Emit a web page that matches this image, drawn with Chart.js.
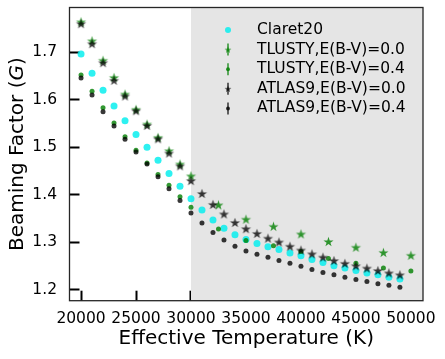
<!DOCTYPE html>
<html>
<head>
<meta charset="utf-8">
<script src="https://cdn.jsdelivr.net/npm/chart.js@4.4.1/dist/chart.umd.min.js"></script>
<style>
  html, body { margin: 0; padding: 0; background: #fff; }
</style>
</head>
<body>
<canvas id="beamChart" width="445" height="359"></canvas>
<script>
// temperatures (K)
const tempsFine = [20000, 21000, 22000, 23000, 24000, 25000, 26000, 27000, 28000, 29000,
  30000, 31000, 32000, 33000, 34000, 35000, 36000, 37000, 38000, 39000,
  40000, 41000, 42000, 43000, 44000, 45000, 46000, 47000, 48000, 49000];
const tempsTlusty = [20000, 21000, 22000, 23000, 24000, 25000, 26000, 27000, 28000, 29000,
  30000, 32500, 35000, 37500, 40000, 42500, 45000, 47500, 50000];

// beaming factor per series
const claret20 = [1.696, 1.656, 1.620, 1.587, 1.556, 1.527, 1.500, 1.473, 1.445, 1.418,
  1.392, 1.368, 1.347, 1.330, 1.316, 1.306, 1.298, 1.291, 1.285, 1.278,
  1.272, 1.264, 1.258, 1.251, 1.246, 1.241, 1.236, 1.232, 1.227, 1.223];
const tlusty00 = [1.764, 1.724, 1.683, 1.647, 1.612, 1.580, 1.549, 1.521, 1.493, 1.465,
  1.440, 1.379, 1.349, 1.334, 1.318, 1.302, 1.290, 1.279, 1.273];
const tlusty04 = [1.652, 1.618, 1.583, 1.551, 1.522, 1.494, 1.467, 1.443, 1.420, 1.396,
  1.374, 1.328, 1.304, 1.293, 1.281, 1.266, 1.256, 1.246, 1.240];
const atlas00 = [1.760, 1.718, 1.678, 1.641, 1.608, 1.577, 1.546, 1.518, 1.488, 1.461,
  1.430, 1.403, 1.380, 1.360, 1.342, 1.329, 1.319, 1.309, 1.301, 1.292,
  1.284, 1.276, 1.269, 1.262, 1.256, 1.251, 1.246, 1.241, 1.236, 1.232];
const atlas04 = [1.646, 1.610, 1.575, 1.545, 1.517, 1.490, 1.465, 1.438, 1.413, 1.388,
  1.362, 1.341, 1.321, 1.305, 1.292, 1.282, 1.275, 1.269, 1.262, 1.256,
  1.250, 1.243, 1.237, 1.232, 1.227, 1.222, 1.218, 1.213, 1.210, 1.206];

const xTicks = [20000, 25000, 30000, 35000, 40000, 45000, 50000];
const yTicks = [1.2, 1.3, 1.4, 1.5, 1.6, 1.7];
const seriesNames = ["Claret20", "TLUSTY,E(B-V)=0.0", "TLUSTY,E(B-V)=0.4", "ATLAS9,E(B-V)=0.0", "ATLAS9,E(B-V)=0.4"];
const shadeFrom = 30000;

const FONT = "'DejaVu Sans', sans-serif";
const cyan = "rgba(0,238,238,0.82)";
const green = "rgba(0,128,0,0.8)";
const dark = "rgba(0,0,0,0.78)";

function makeStar(color, R) {
  const c = document.createElement("canvas");
  const s = Math.ceil(R * 2 + 2);
  c.width = s; c.height = s;
  const g = c.getContext("2d");
  g.translate(s / 2, s / 2 + R * 0.1);
  g.beginPath();
  for (let i = 0; i < 10; i++) {
    const rr = i % 2 ? R * 0.382 : R;
    const a = -Math.PI / 2 + i * Math.PI / 5;
    g.lineTo(rr * Math.cos(a), rr * Math.sin(a));
  }
  g.closePath();
  g.fillStyle = color;
  g.fill();
  return c;
}

const greenStar = makeStar(green, 5.3);
const darkStar = makeStar(dark, 5.3);

function pts(xs, ys) {
  return xs.map((x, i) => ({ x: x, y: ys[i] }));
}

// no extra room for edge labels, the layout padding decides the plot box
function noPad(s) {
  s.paddingTop = 0; s.paddingBottom = 0; s.paddingLeft = 0; s.paddingRight = 0;
}

// grey band + frame + legend + y title
const decor = {
  id: "decor",
  beforeDatasetsDraw(chart) {
    const { ctx, chartArea: a, scales } = chart;
    const x0 = scales.x.getPixelForValue(shadeFrom);
    ctx.save();
    ctx.fillStyle = "#e5e5e5";
    ctx.fillRect(x0, a.top, a.right - x0, a.bottom - a.top);
    ctx.restore();
  },
  afterDraw(chart) {
    const { ctx, chartArea: a } = chart;
    ctx.save();
    ctx.strokeStyle = "#262626";
    ctx.lineWidth = 1.3;
    ctx.strokeRect(a.left, a.top, a.right - a.left, a.bottom - a.top);

    // legend
    const mx = 228, tx = 257, y0 = 30, dy = 19.6;
    ctx.font = "15.5px " + FONT;
    ctx.textBaseline = "middle";
    seriesNames.forEach((name, i) => {
      const y = y0 + i * dy;
      if (i === 0) {
        ctx.fillStyle = cyan;
        ctx.beginPath(); ctx.arc(mx, y, 3, 0, Math.PI * 2); ctx.fill();
      } else {
        const col = i < 3 ? green : dark;
        ctx.strokeStyle = col;
        ctx.lineWidth = 1.5;
        ctx.beginPath(); ctx.moveTo(mx, y - 6); ctx.lineTo(mx, y + 6); ctx.stroke();
        ctx.fillStyle = col;
        if (i % 2 === 1) {
          const st = makeStar(col, 3.6);
          ctx.drawImage(st, mx - st.width / 2, y - st.height / 2);
        } else {
          ctx.beginPath(); ctx.arc(mx, y, 2, 0, Math.PI * 2); ctx.fill();
        }
      }
      ctx.fillStyle = "#000";
      ctx.fillText(name, tx, y);
    });

    // y title with italic G
    const cy = (a.top + a.bottom) / 2;
    ctx.translate(18, cy);
    ctx.rotate(-Math.PI / 2);
    const p1 = "Beaming Factor (", p2 = "G", p3 = ")";
    ctx.font = "20px " + FONT;
    const w1 = ctx.measureText(p1).width, w3 = ctx.measureText(p3).width;
    ctx.font = "italic 20px " + FONT;
    const w2 = ctx.measureText(p2).width;
    const x = -(w1 + w2 + w3) / 2;
    ctx.textAlign = "left";
    ctx.fillStyle = "#000";
    ctx.font = "20px " + FONT;
    ctx.fillText(p1, x, 0);
    ctx.font = "italic 20px " + FONT;
    ctx.fillText(p2, x + w1, 0);
    ctx.font = "20px " + FONT;
    ctx.fillText(p3, x + w1 + w2, 0);
    ctx.restore();
  }
};

const ctx = document.getElementById("beamChart");

new Chart(ctx, {
  type: "scatter",
  data: {
    datasets: [
      { label: seriesNames[0], data: pts(tempsFine, claret20), pointStyle: "circle",
        pointRadius: 3.5, backgroundColor: cyan, borderWidth: 0, order: 5 },
      { label: seriesNames[1], data: pts(tempsTlusty, tlusty00), pointStyle: greenStar,
        pointRadius: 5, backgroundColor: green, borderWidth: 0, order: 4 },
      { label: seriesNames[2], data: pts(tempsTlusty, tlusty04), pointStyle: "circle",
        pointRadius: 2.5, backgroundColor: green, borderWidth: 0, order: 3 },
      { label: seriesNames[3], data: pts(tempsFine, atlas00), pointStyle: darkStar,
        pointRadius: 5, backgroundColor: dark, borderWidth: 0, order: 2 },
      { label: seriesNames[4], data: pts(tempsFine, atlas04), pointStyle: "circle",
        pointRadius: 2.5, backgroundColor: dark, borderWidth: 0, order: 1 }
    ]
  },
  options: {
    responsive: false,
    animation: false,
    events: [],
    layout: { padding: { top: 7.5, right: 22, left: 0, bottom: 0 } },
    plugins: {
      legend: { display: false },
      tooltip: { enabled: false }
    },
    scales: {
      x: {
        type: "linear",
        min: 18950,
        max: 51100,
        afterBuildTicks: s => { s.ticks = xTicks.map(v => ({ value: v })); },
        afterFit: s => { s.height = 58.3; noPad(s); },
        ticks: {
          callback: v => String(v),
          font: { family: FONT, size: 15.5 },
          color: "#000",
          padding: 19,
          maxRotation: 0,
          autoSkip: false
        },
        grid: { drawOnChartArea: false, tickLength: -10, tickWidth: 2, tickColor: "#000" },
        border: { display: false },
        title: {
          display: true,
          text: "Effective Temperature (K)",
          font: { family: FONT, size: 20 },
          color: "#000",
          padding: { top: 0, bottom: 8 }
        }
      },
      y: {
        type: "linear",
        min: 1.1775,
        max: 1.794,
        afterBuildTicks: s => { s.ticks = yTicks.map(v => ({ value: v })); },
        afterFit: s => { s.width = 69.5; noPad(s); },
        ticks: {
          callback: v => v.toFixed(1),
          font: { family: FONT, size: 15.5 },
          color: "#000",
          padding: 22.5
        },
        grid: { drawOnChartArea: false, tickLength: -10, tickWidth: 2, tickColor: "#000" },
        border: { display: false }
      }
    }
  },
  plugins: [decor]
});
</script>
</body>
</html>
